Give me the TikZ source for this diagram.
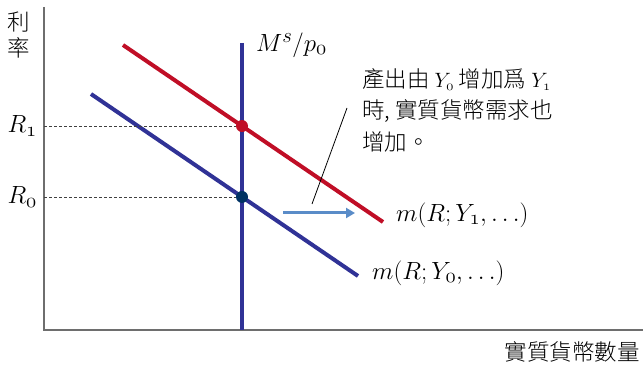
\documentclass[tikz,border=0pt]{standalone}
\usepackage{fontspec}
\newfontfamily\cjk{Noto Sans CJK TC Light}
\usepackage{tikz}
\usetikzlibrary{positioning}
\usetikzlibrary{calc}
\usetikzlibrary{intersections}
\usetikzlibrary{arrows.meta}
\definecolor{curvered}{RGB}{192,14,38}
\definecolor{curveblue}{RGB}{48,50,150}
\definecolor{dotnavy}{RGB}{0,50,100}
\definecolor{shiftblue}{RGB}{90,140,200}
\definecolor{axisgray}{RGB}{110,110,110}
% old-style digits from the math italic font
\newcommand{\osnum}[1]{\mathchar\numexpr"0130+#1\relax}
\newcommand{\notemath}[1]{{\fontsize{20.74}{25}\selectfont$#1$}}

\begin{document}
\begin{tikzpicture}[x=1pt, y=1pt,
    axis/.style={axisgray, line width=2pt},
    curve/.style={line width=4pt},
    guide/.style={black!75, line width=0.8pt, dash pattern=on 2.5pt off 2.5pt},
    eqdot/.style={circle, inner sep=0pt, minimum size=12pt},
    lbl/.style={font=\fontsize{24.88}{30}\selectfont, inner sep=0pt},
    cjklbl/.style={font=\cjk\fontsize{22.5}{31.5}\selectfont, inner sep=0pt}]

    \useasboundingbox (0,0) rectangle (643,366);

    \coordinate (o) at (44,36);
    \coordinate (ytop) at (44,359);
    \coordinate (xend) at (643,36);
    \coordinate (mtop) at (242,323);
    \coordinate (mbot) at (242,36);
    \coordinate (r1a) at (123,321);
    \coordinate (r1b) at (383,144);
    \coordinate (r0a) at (91,272);
    \coordinate (r0b) at (358,90);

    \draw[axis] (ytop) -- (o) -- (xend);
    \draw[curve, curveblue, name path=ms] (mtop) -- (mbot);
    \draw[curve, curvered, name path=m1] (r1a) -- (r1b);
    \draw[curve, curveblue, name path=m0] (r0a) -- (r0b);

    % equilibria
    \path[name intersections={of=ms and m1, by=e1}];
    \path[name intersections={of=ms and m0, by=e0}];
    \draw[guide] (e1 -| o) -- (e1);
    \draw[guide] (e0 -| o) -- (e0);
    \node[eqdot, fill=curvered] (d1) at (e1) {};
    \node[eqdot, fill=dotnavy] (d0) at (e0) {};

    \node[lbl, anchor=east] (r1lbl) at ($(e1 -| o)+(-7,0)$) {$R_{\osnum{1}}$};
    \node[lbl, anchor=east] (r0lbl) at ($(e0 -| o)+(-7,0)$) {$R_{\osnum{0}}$};
    \node[lbl, anchor=west] (mslbl) at (256,321) {$M^s/p_{\osnum{0}}$};
    \node[lbl, anchor=west] (m1lbl) at (396,151) {$m(R;Y_{\osnum{1}},\dots)$};
    \node[lbl, anchor=west] (m0lbl) at (372,93) {$m(R;Y_{\osnum{0}},\dots)$};

    \node[cjklbl, align=center, font=\cjk\fontsize{22.5}{26}\selectfont] (ylbl) at (19,331) {利\\率};
    \node[cjklbl, anchor=east] (xlbl) at (640,14) {實質貨幣數量};
    \node[cjklbl, align=left, anchor=north west] (note) at (362,298)
        {產出由 \notemath{Y_{\osnum{0}}} 增加爲 \notemath{Y_{\osnum{1}}}\\時, 實質貨幣需求也\\增加。};

    % pointer and shift
    \coordinate (pa) at (312,162);
    \coordinate (pb) at (347,258);
    \draw[line width=0.8pt] (pa) -- (pb);
    \coordinate (sa) at (283,153);
    \coordinate (sb) at (355,153);
    \draw[shiftblue, line width=3pt, -{Triangle[length=9pt,width=10pt]}] (sa) -- (sb);
\end{tikzpicture}
\end{document}
